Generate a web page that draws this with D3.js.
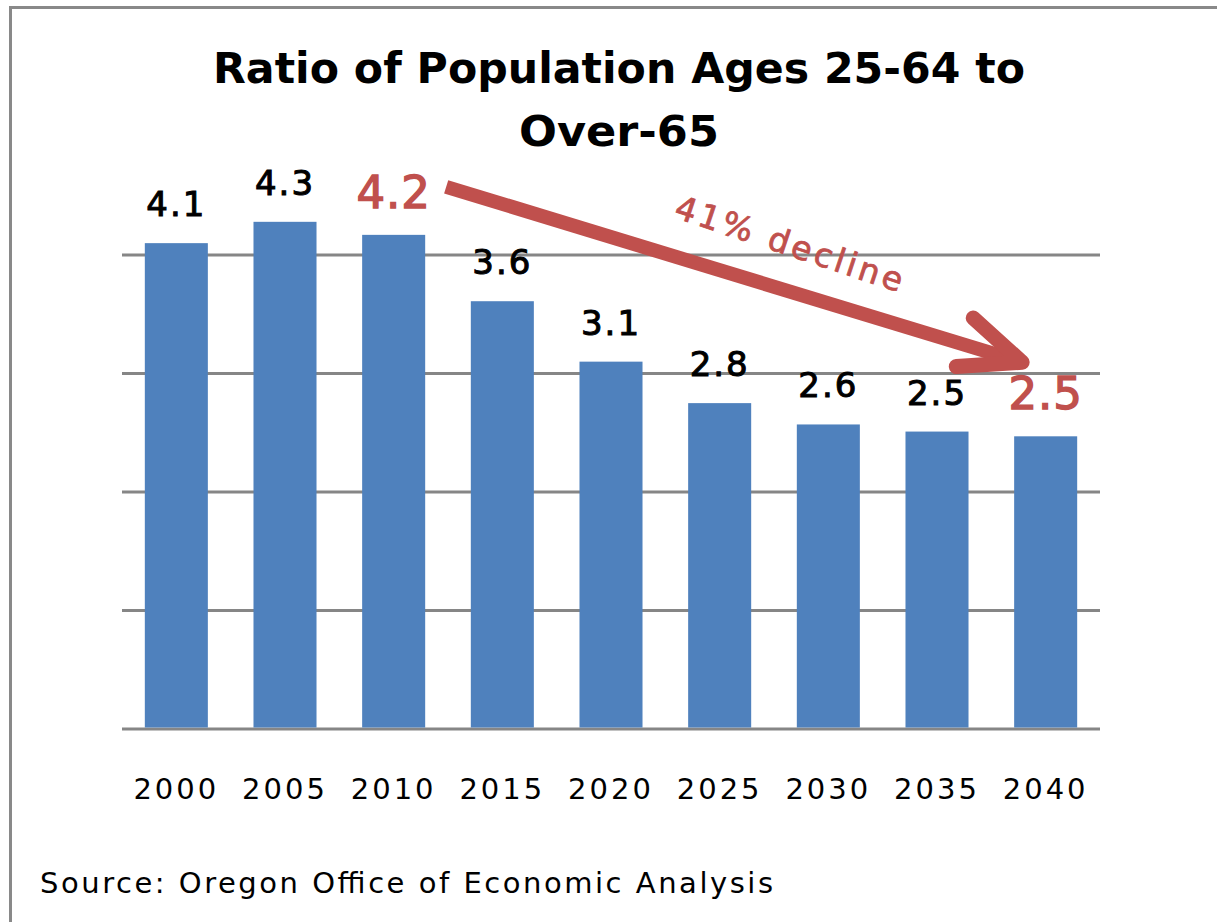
<!DOCTYPE html>
<html>
<head>
<meta charset="utf-8">
<script src="https://cdn.jsdelivr.net/npm/d3@7"></script>
<style>
  html, body { margin: 0; padding: 0; background: #fff; }
  svg { display: block; }
</style>
</head>
<body>
<script>
// chart data
const years = ["2000", "2005", "2010", "2015", "2020", "2025", "2030", "2035", "2040"]
const ratios = [4.1, 4.28, 4.17, 3.61, 3.1, 2.75, 2.57, 2.51, 2.47]
const valueLabels = ["4.1", "4.3", "4.2", "3.6", "3.1", "2.8", "2.6", "2.5", "2.5"]
const highlighted = ["2010", "2040"]
const gridTicks = [0, 1, 2, 3, 4]
const titleLines = ["Ratio of Population Ages 25-64 to", "Over-65"]
const sourceText = "Source: Oregon Office of Economic Analysis"
const declineText = "41% decline"

const svgwidth = 1217
const svgheight = 922
const barColor = "#4f81bd"
const redColor = "#c0504d"
const gridColor = "#868686"

const svg = d3.select(document.body)
    .append('svg')
        .attr('width', svgwidth)
        .attr('height', svgheight)

svg.append('rect')
    .attr('width', svgwidth)
    .attr('height', svgheight)
    .attr('fill', '#fff')

// outer chart frame (right/bottom edges fall outside the picture)
svg.append('rect')
    .attr('x', 10.5)
    .attr('y', 7.5)
    .attr('width', svgwidth + 20)
    .attr('height', svgheight + 20)
    .attr('fill', 'none')
    .attr('stroke', '#898989')
    .attr('stroke-width', 3)

const x = d3.scaleBand()
    .domain(years)
    .range([122, 1100])
    .paddingInner(0.42)
    .paddingOuter(0.21)

const y = d3.scaleLinear()
    .domain([0, 5])
    .range([729, 136.5])

// title
svg.append('g')
    .selectAll('text')
    .data(titleLines)
    .join('text')
        .attr('x', 619)
        .attr('y', (d, i) => 83 + i * 63)
        .attr('text-anchor', 'middle')
        .attr('font-family', 'DejaVu Sans, sans-serif')
        .attr('font-weight', 'bold')
        .attr('font-size', 42)
        .attr('fill', '#000')
        .attr('textLength', (d, i) => i === 0 ? 812 : 200)
        .attr('lengthAdjust', 'spacingAndGlyphs')
        .text(d => d)

// gridlines
svg.append('g')
    .selectAll('line')
    .data(gridTicks)
    .join('line')
        .attr('x1', x.range()[0])
        .attr('x2', x.range()[1])
        .attr('y1', d => y(d))
        .attr('y2', d => y(d))
        .attr('stroke', gridColor)
        .attr('stroke-width', 3)

// bars
svg.append('g')
    .attr('fill', barColor)
    .selectAll('rect')
    .data(years)
    .join('rect')
        .attr('x', d => x(d))
        .attr('width', x.bandwidth())
        .attr('y', (d, i) => y(ratios[i]))
        .attr('height', (d, i) => y(0) - y(ratios[i]) - 1.5)

// value labels
svg.append('g')
    .selectAll('text')
    .data(years)
    .join('text')
        .attr('x', d => x(d) + x.bandwidth() / 2)
        .attr('y', (d, i) => y(ratios[i]) - 27)
        .attr('text-anchor', 'middle')
        .attr('font-family', 'DejaVu Sans, sans-serif')
        .attr('font-size', d => highlighted.includes(d) ? 45 : 34)
        .attr('letter-spacing', d => highlighted.includes(d) ? 1 : 2)
        .attr('fill', d => highlighted.includes(d) ? redColor : '#000')
        .attr('stroke', d => highlighted.includes(d) ? redColor : '#000')
        .attr('stroke-width', d => highlighted.includes(d) ? 1.4 : 1)
        .text((d, i) => valueLabels[i])

// x axis labels
svg.append('g')
    .selectAll('text')
    .data(years)
    .join('text')
        .attr('x', d => x(d) + x.bandwidth() / 2)
        .attr('y', 799)
        .attr('text-anchor', 'middle')
        .attr('font-family', 'DejaVu Sans, sans-serif')
        .attr('font-size', 29)
        .attr('letter-spacing', 3)
        .attr('fill', '#000')
        .text(d => d)

// decline arrow, anchored on the highlighted bars
const i0 = years.indexOf(highlighted[0])
const i1 = years.indexOf(highlighted[1])
const start = [x(highlighted[0]) + x.bandwidth() + 21, y(ratios[i0]) - 48]
const tip = [x(highlighted[1]) + 8, y(ratios[i1]) - 74]
const ang = Math.atan2(tip[1] - start[1], tip[0] - start[0])
const armLen = 66
const arm = a => [tip[0] - armLen * Math.cos(ang + a), tip[1] - armLen * Math.sin(ang + a)]
const lineEnd = [tip[0] - 10 * Math.cos(ang), tip[1] - 10 * Math.sin(ang)]

svg.append('path')
    .attr('d', d3.line()([start, lineEnd]))
    .attr('stroke', redColor)
    .attr('stroke-width', 14)
    .attr('fill', 'none')

svg.append('path')
    .attr('d', d3.line()([arm(0.44), tip, arm(-0.36)]))
    .attr('stroke', redColor)
    .attr('stroke-width', 15)
    .attr('stroke-linejoin', 'round')
    .attr('stroke-linecap', 'round')
    .attr('fill', 'none')

const t = 0.575
const mid = [start[0] + t * (tip[0] - start[0]), start[1] + t * (tip[1] - start[1])]
const off = 34
svg.append('text')
    .attr('transform', `translate(${mid[0] + off * Math.sin(ang)}, ${mid[1] - off * Math.cos(ang)}) rotate(${ang * 180 / Math.PI + 1.5})`)
    .attr('text-anchor', 'middle')
    .attr('font-family', 'DejaVu Sans, sans-serif')
    .attr('font-size', 33)
    .attr('letter-spacing', 3.5)
    .attr('fill', redColor)
    .attr('stroke', redColor)
    .attr('stroke-width', 0.8)
    .text(declineText)

// source note
svg.append('text')
    .attr('x', 40)
    .attr('y', 893)
    .attr('font-family', 'DejaVu Sans, sans-serif')
    .attr('font-size', 29)
    .attr('textLength', 733)
    .attr('lengthAdjust', 'spacing')
    .attr('fill', '#000')
    .text(sourceText)
</script>
</body>
</html>
